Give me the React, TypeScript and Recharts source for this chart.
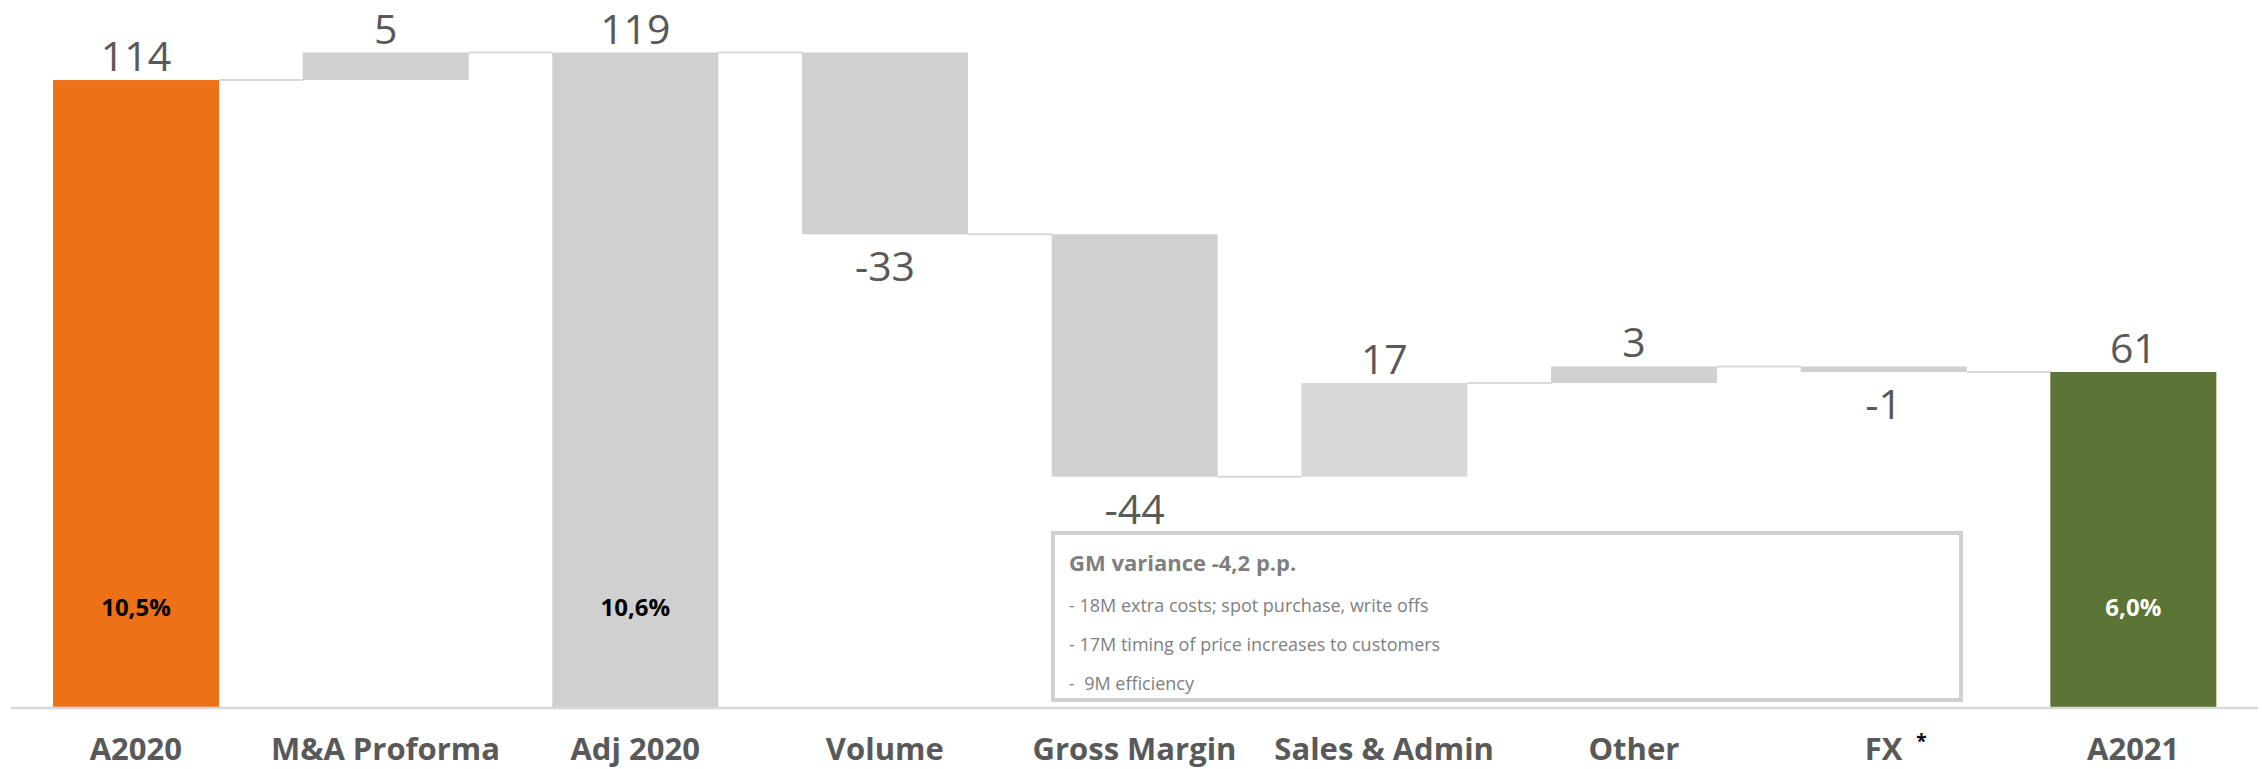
import { BarChart, Bar, XAxis, YAxis } from 'recharts';

const categories = ['A2020', 'M&A Proforma', 'Adj 2020', 'Volume', 'Gross Margin', 'Sales & Admin', 'Other', 'FX', 'A2021'];
const values = [114, 5, 119, -33, -44, 17, 3, -1, 61];
const isTotal = [true, false, true, false, false, false, false, false, true];
const marginLabels = ['10,5%', '', '10,6%', '', '', '', '', '', '6,0%'];
const footnoteMarks = ['', '', '', '', '', '', '', '*', ''];

const noteTitle = 'GM variance -4,2 p.p.';
const noteLines = [
    '- 18M extra costs; spot purchase, write offs',
    '- 17M timing of price increases to customers',
    '-  9M efficiency'
];

const FONT = "'Open Sans', 'Noto Sans', sans-serif";
const BAR_COLORS: Record<string, string> = {
    A2020: '#ED7117',
    A2021: '#5C7536',
    'Sales & Admin': '#D8D8D8'
};
const DEFAULT_BAR = '#D0D0D0';
const MARGIN_TEXT: Record<string, string> = { A2021: '#FFFFFF' };
const CAT_GAP = 42;

// waterfall: invisible base + visible step
let running = 0;
const chartData = categories.map((name, i) => {
    const v = values[i];
    let base = 0;
    let size = v;
    let end = v;
    if (!isTotal[i]) {
        end = running + v;
        base = Math.min(running, end);
        size = Math.abs(v);
    }
    running = end;
    return {
        name,
        value: v,
        base,
        size,
        margin: marginLabels[i],
        last: i === categories.length - 1
    };
});

function WaterfallBar(props: any) {
    const { x, y, width, height, payload } = props;
    const fill = BAR_COLORS[payload.name] || DEFAULT_BAR;
    const up = payload.value >= 0;
    const bottom = y + height;
    const levelY = up ? y : bottom;
    const cx = x + width / 2;
    return (
        <g>
            <rect x={x} y={y} width={width} height={height} fill={fill} />
            {!payload.last && (
                <line x1={x + width} x2={x + width + 2 * CAT_GAP} y1={levelY} y2={levelY} stroke="#D9D9D9" strokeWidth={2} />
            )}
            <text x={cx} y={up ? y - 9 : bottom + 47} textAnchor="middle" fontSize={41} fill="#595959" fontFamily={FONT}>
                {payload.value}
            </text>
            {payload.margin && (
                <text x={cx} y={bottom - 92} textAnchor="middle" fontSize={24} fontWeight={700}
                    fill={MARGIN_TEXT[payload.name] || '#000000'} fontFamily={FONT}>
                    {payload.margin}
                </text>
            )}
        </g>
    );
}

function CategoryTick(props: any) {
    const { x, y, payload } = props;
    const mark = footnoteMarks[categories.indexOf(payload.value)];
    return (
        <g>
            <text x={x} y={y + 52} textAnchor="middle" fontSize={31} fontWeight={700} fill="#595959" fontFamily={FONT}>
                {payload.value}
            </text>
            {mark && (
                <text x={x + 38} y={y + 40} textAnchor="middle" fontSize={19} fontWeight={700} fill="#000000" fontFamily={FONT}>
                    {mark}
                </text>
            )}
        </g>
    );
}

export default function App() {
    return (
        <div style={{ position: 'absolute', left: 0, top: 0, width: 2262, height: 769, background: '#fff', fontFamily: FONT }}>
            <BarChart
                width={2262}
                height={769}
                data={chartData}
                margin={{ top: 47, right: 4, bottom: 0, left: 11 }}
                barCategoryGap={CAT_GAP}
            >
                <XAxis
                    dataKey="name"
                    interval={0}
                    height={61}
                    tickLine={false}
                    tickSize={0}
                    tickMargin={0}
                    axisLine={{ stroke: '#D9D9D9', strokeWidth: 2.5 }}
                    tick={<CategoryTick />}
                />
                <YAxis hide domain={[0, 120]} />
                <Bar dataKey="base" stackId="w" fill="transparent" isAnimationActive={false} />
                <Bar dataKey="size" stackId="w" shape={<WaterfallBar />} isAnimationActive={false} />
            </BarChart>
            <div
                style={{
                    position: 'absolute',
                    left: 1051,
                    top: 531,
                    width: 912,
                    height: 171,
                    boxSizing: 'border-box',
                    border: '4px solid #D0D0D0',
                    background: '#fff',
                    color: '#7F7F7F'
                }}
            >
                <div style={{ position: 'absolute', left: 14, top: 12, fontSize: 22, fontWeight: 700, lineHeight: '30px', whiteSpace: 'pre' }}>
                    {noteTitle}
                </div>
                {noteLines.map((line, i) => (
                    <div
                        key={i}
                        style={{ position: 'absolute', left: 14, top: 55 + i * 39, fontSize: 18, lineHeight: '30px', whiteSpace: 'pre' }}
                    >
                        {line}
                    </div>
                ))}
            </div>
        </div>
    );
}
